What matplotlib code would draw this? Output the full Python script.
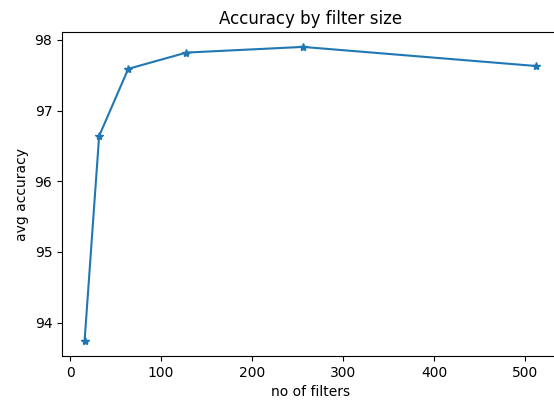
import matplotlib
matplotlib.use("Agg")
import matplotlib.pyplot as plt

# Number of convolution filters and the mean accuracy reached with each
num_filters = [16, 32, 64, 128, 256, 512]
avg_accuracy = [93.74, 96.64, 97.59, 97.82, 97.90, 97.63]

W, H = 554, 405
fig = plt.figure(figsize=(W / 100, H / 100), dpi=100)
ax = fig.add_axes([62 / W, 1 - 355.8 / H, 496.5 / W, 323.6 / H])

ax.plot(num_filters, avg_accuracy, marker="*", color="#1f77b4")
ax.set_title("Accuracy by filter size")
ax.set_xlabel("no of filters")
ax.set_ylabel("avg accuracy")
ax.set_xticks([0, 100, 200, 300, 400, 500])
ax.set_yticks([94, 95, 96, 97, 98])

fig.savefig("out.png", dpi=100)
